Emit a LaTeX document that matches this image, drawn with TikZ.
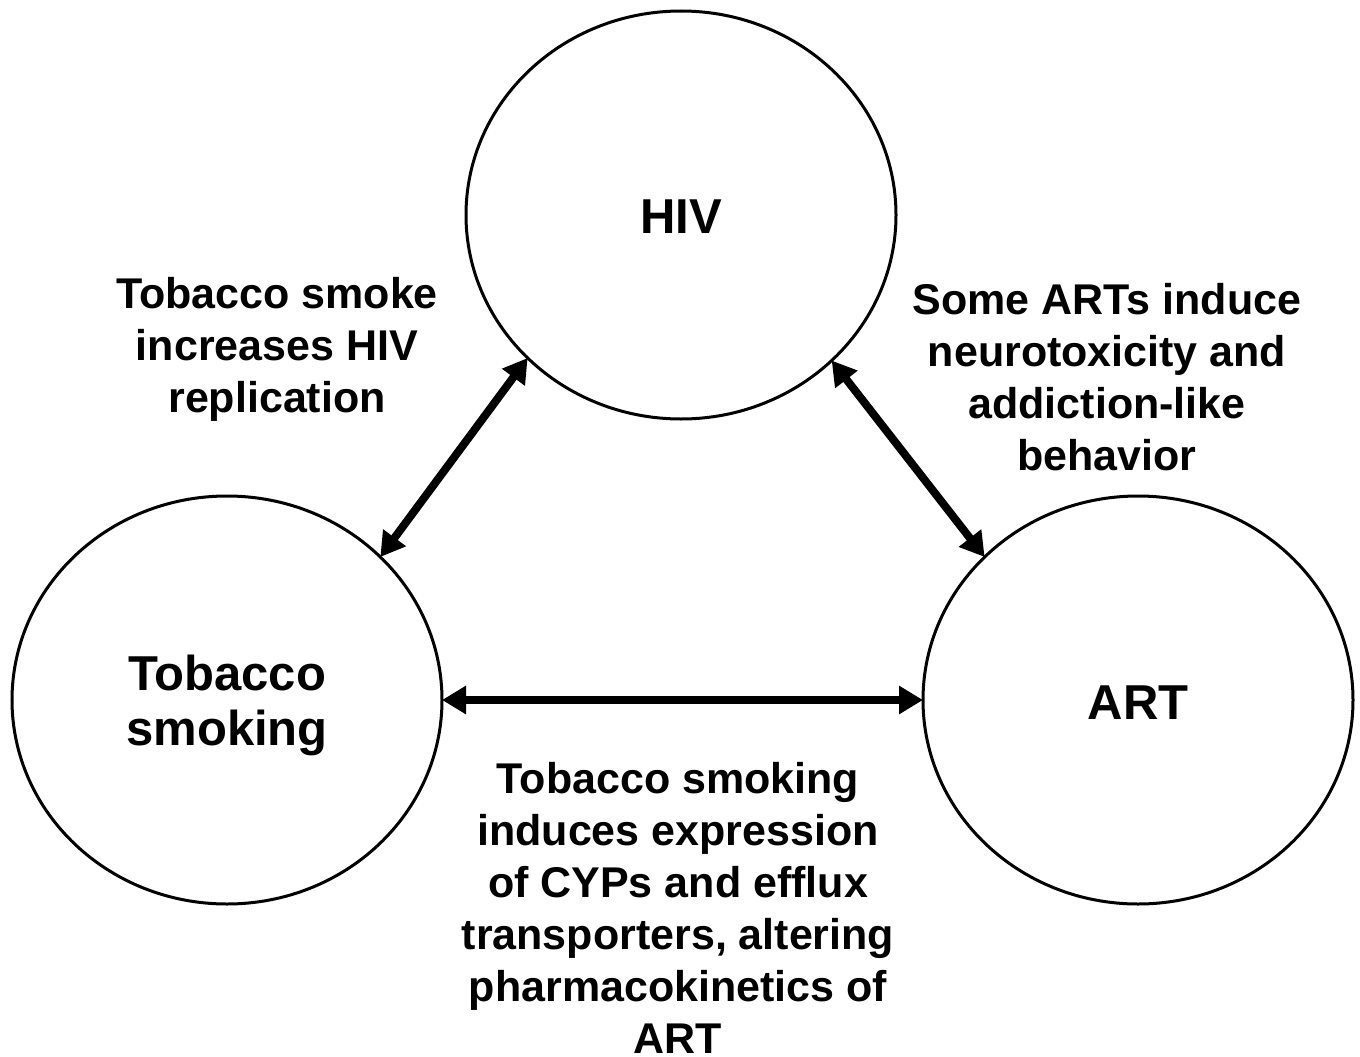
\documentclass[tikz,border=0pt]{standalone}
\usepackage{fontspec}
\setmainfont{Liberation Sans}
\usetikzlibrary{shapes.geometric,arrows.meta}
\begin{document}
\begin{tikzpicture}[x=1pt,y=-1pt,
  bubble/.style={ellipse,draw,line width=3pt,minimum width=430pt,minimum height=408pt,inner sep=0pt,outer sep=0pt},
  intext/.style={font=\bfseries\fontsize{49}{55}\selectfont,align=center,inner sep=0pt},
  lbl/.style={font=\bfseries\fontsize{43}{52}\selectfont,align=center,inner sep=0pt},
  link/.style={line width=8pt,{Triangle[length=24pt,width=27pt]}-{Triangle[length=24pt,width=27pt]}}]
\useasboundingbox (0,0) rectangle (1360,1057);
\fill[white] (0,0) rectangle (1360,1057);
\node[bubble] (hiv) at (681,215) {};
\node[bubble] (tob) at (227,700) {};
\node[bubble] (art) at (1138,700) {};
\node[intext] (thiv) at ([yshift=-2pt]hiv.center) {HIV};
\node[intext] (ttob) at ([yshift=-5pt]tob.center) {Tobacco\\smoking};
\node[intext] (tart) at ([yshift=-3pt]art.center) {ART};
\draw[link] (tob.43.5) -- (hiv.223.9);
\draw[link] (hiv.316) -- (art.137);
\draw[link] (tob.east) -- (art.west);
\node[lbl] (l1) at (277,349) {Tobacco smoke\\increases HIV\\replication};
\node[lbl] (l2) at (1107,377) {Some ARTs induce\\neurotoxicity and\\addiction-like\\behavior};
\node[lbl] (l3) at (678,908) {Tobacco smoking\\induces expression\\of CYPs and efflux\\transporters, altering\\pharmacokinetics of\\ART};
\end{tikzpicture}
\end{document}
